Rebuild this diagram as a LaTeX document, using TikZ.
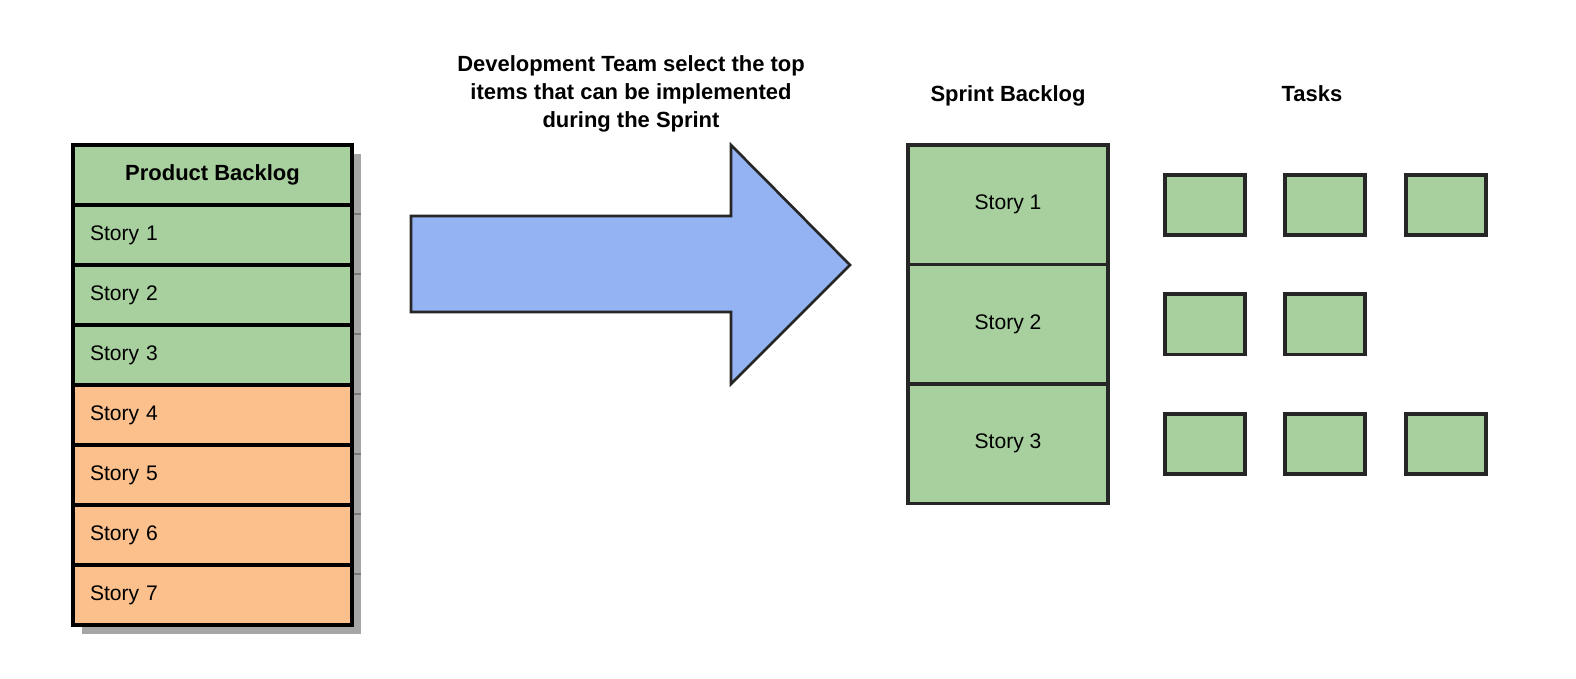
\documentclass[tikz,border=0pt]{standalone}
\usepackage{fontspec}
\setmainfont{Liberation Sans}
\usetikzlibrary{positioning,backgrounds}
\definecolor{storygreen} {RGB}{168,208,158}
\definecolor{storyorange}{RGB}{251,192,139}
\definecolor{arrowblue}  {RGB}{148,179,242}
\definecolor{edgegray}   {RGB}{38,38,38}
\definecolor{shadowgray} {RGB}{166,166,166}
\definecolor{tickgray}   {RGB}{120,120,120}

\begin{document}
\begin{tikzpicture}[
  every node/.style={font=\fontsize{12}{15.9}\selectfont, align=center},
  title/.style={font=\fontsize{12.5}{15.9}\selectfont\bfseries},
  pbrow/.style={draw=black, line width=2pt, minimum width=5.58cm, minimum height=1.2cm, inner sep=0pt, outer sep=0pt},
  story/.style={pbrow, text width=4.9cm, inner xsep=0.34cm, align=left},
  sbrow/.style={draw=edgegray, fill=storygreen, line width=2pt, minimum width=4cm, minimum height=2.39cm, inner sep=0pt, outer sep=0pt},
  task/.style={draw=edgegray, fill=storygreen, line width=2pt, minimum width=1.6cm, minimum height=1.2cm, outer sep=0pt}
]
  \useasboundingbox (0,0) rectangle (31.52,-13.56);

  % Product backlog
  \node (pbhead) [pbrow, fill=storygreen, title, anchor=north west] at (1.46,-2.9) {Product Backlog};
  \node (s1) [story, fill=storygreen, below=0cm of pbhead] {Story 1};
  \node (s2) [story, fill=storygreen, below=0cm of s1] {Story 2};
  \node (s3) [story, fill=storygreen, below=0cm of s2] {Story 3};
  \node (s4) [story, fill=storyorange, below=0cm of s3] {Story 4};
  \node (s5) [story, fill=storyorange, below=0cm of s4] {Story 5};
  \node (s6) [story, fill=storyorange, below=0cm of s5] {Story 6};
  \node (s7) [story, fill=storyorange, below=0cm of s6] {Story 7};

  \begin{scope}[on background layer]
    \fill[shadowgray] ([shift={(0.18,-0.18)}]pbhead.north west) rectangle ([shift={(0.18,-0.18)}]s7.south east);
    \foreach \row in {s1,s2,s3,s4,s5,s6,s7}
      \draw[tickgray, line width=0.8pt] ([yshift=-0.18cm]\row.north east) -- ++(0.18,0);
  \end{scope}

  % Selection arrow
  \draw[draw=edgegray, fill=arrowblue, line width=1.5pt]
    (8.22,-4.32) -- (14.62,-4.32) -- (14.62,-2.90) -- (17.0,-5.30)
    -- (14.62,-7.68) -- (14.62,-6.24) -- (8.22,-6.24) -- cycle;
  \node (pick) [title] at (12.62,-1.88) {Development Team select the top\\items that can be implemented\\during the Sprint};

  % Sprint backlog
  \node (sb1) [sbrow, anchor=north west] at (18.16,-2.9) {Story 1};
  \node (sb2) [sbrow, below=0cm of sb1] {Story 2};
  \node (sb3) [sbrow, below=0cm of sb2] {Story 3};
  \node (sbtitle) [title, above=0.66cm of sb1] {Sprint Backlog};

  % Tasks
  \node (t11) [task, right=1.14cm of sb1] {};
  \node (t12) [task, right=0.8cm of t11] {};
  \node (t13) [task, right=0.82cm of t12] {};
  \node (t21) [task, right=1.14cm of sb2] {};
  \node (t22) [task, right=0.8cm of t21] {};
  \node (t31) [task, right=1.14cm of sb3] {};
  \node (t32) [task, right=0.8cm of t31] {};
  \node (t33) [task, right=0.82cm of t32] {};
  \node (tasktitle) [title, anchor=base, xshift=-0.26cm] at (sbtitle.base -| t12) {Tasks};
\end{tikzpicture}
\end{document}
